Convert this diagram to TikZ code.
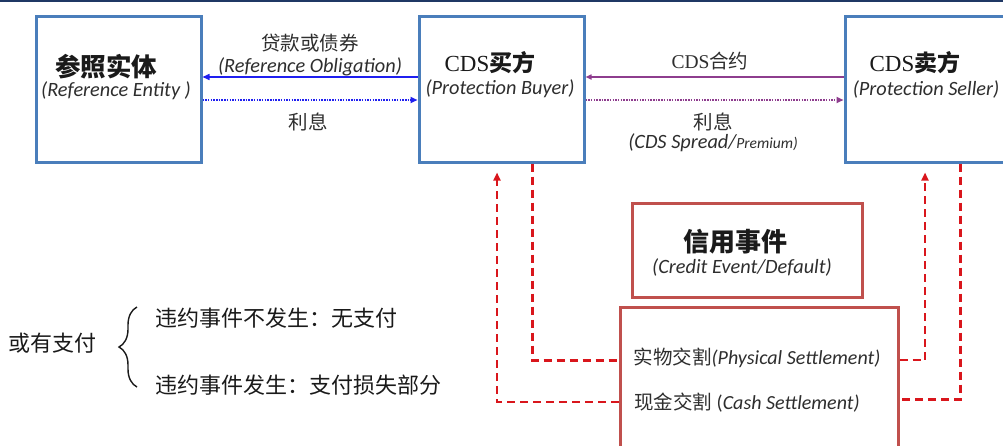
\documentclass[tikz,border=0pt]{standalone}
\usepackage{fontspec}
\setmainfont{Carlito}
\newfontfamily\cjk{Noto Sans CJK SC}
\newfontfamily\tnr{Liberation Serif}
\usetikzlibrary{arrows.meta,decorations.pathreplacing,calc}
\definecolor{boxblue}{HTML}{4A7EBB}
\definecolor{boxred}{HTML}{C0504D}
\definecolor{dashred}{HTML}{D9161C}
\definecolor{arrblue}{HTML}{1F1FF0}
\definecolor{arrpurple}{HTML}{8E3D8E}
\definecolor{navy}{HTML}{1F3864}
\definecolor{txt}{HTML}{1A1A1A}
\definecolor{txtg}{HTML}{2E2E2E}
\tikzset{
  bluebox/.style={draw=boxblue, line width=3pt, fill=white, inner sep=0pt},
  redbox/.style={draw=boxred, line width=3pt, fill=white, inner sep=0pt},
  title/.style={font=\cjk\bfseries\fontsize{25.5}{28}\selectfont, text=txt, inner sep=0pt},
  cdstitle/.style={font=\fontsize{23}{26}\selectfont, text=txt, inner sep=0pt},
  sub/.style={font=\itshape\fontsize{20.3}{23}\selectfont, text=txtg, inner sep=0pt},
  lab/.style={font=\cjk\fontsize{19.5}{22}\selectfont, text=txtg, inner sep=0pt},
  note/.style={font=\cjk\fontsize{22}{25}\selectfont, text=txt, inner sep=0pt},
  bluearrow/.style={draw=arrblue, line width=1.5pt, -{Triangle[length=7pt,width=6pt]}},
  bluedot/.style={draw=arrblue, line width=1.7pt, dash pattern=on 1.5pt off 1.2pt, -{Triangle[length=7pt,width=6pt]}},
  purplearrow/.style={draw=arrpurple, line width=1.5pt, -{Triangle[length=6pt,width=5pt]}},
  purpledot/.style={draw=arrpurple, line width=1.7pt, dash pattern=on 1.5pt off 1.2pt, -{Triangle[length=7pt,width=6pt]}},
  redthick/.style={draw=dashred, line width=3pt, dash pattern=on 8pt off 5pt},
  redthin/.style={draw=dashred, line width=2.3pt, dash pattern=on 8pt off 5pt, -{Triangle[length=8pt,width=7pt]}},
}
\begin{document}
\begin{tikzpicture}[x=1pt,y=-1pt]
\useasboundingbox (0,0) rectangle (1003,445);
\clip (0,0) rectangle (1003,445);
\fill[white] (0,0) rectangle (1003,445);
\draw[navy, line width=2pt] (0,1) -- (1003,1);

% boxes
\node[bluebox, minimum width=165pt, minimum height=146pt] (ent) at (118.5,89) {};
\node[bluebox, minimum width=165pt, minimum height=146pt] (buyer) at (501.5,89) {};
\node[bluebox, minimum width=165pt, minimum height=146pt] (seller) at (927.5,89) {};
\node[redbox, minimum width=230pt, minimum height=94pt] (credit) at (747,250) {};
\node[redbox, minimum width=278pt, minimum height=165pt] (settle) at (759,389.5) {};

% box texts
\node[title] (t1a) at (106,67) {参照实体};
\node[sub] (t1b) at (116,91) {(Reference Entity )};
\node[cdstitle] (t2a) at (490,63) {{\tnr CDS}{\cjk\bfseries 买方}};
\node[sub] (t2b) at (500,89) {(Protection Buyer)};
\node[cdstitle] (t3a) at (915,63) {{\tnr CDS}{\cjk\bfseries 卖方}};
\node[sub] (t3b) at (926,89) {(Protection Seller)};
\node[title, font=\cjk\bfseries\fontsize{26}{28}\selectfont] (ce1) at (735,242) {信用事件};
\node[sub] (ce2) at (742,267) {(Credit Event/Default)};
\node[lab, font=\cjk\fontsize{19.5}{22}\selectfont] (phy) at (757,358) {实物交割{\rmfamily\itshape\fontsize{20}{22}\selectfont(Physical Settlement)}};
\node[lab, font=\cjk\fontsize{19.5}{22}\selectfont] (cash) at (747,403) {现金交割 {\rmfamily\fontsize{20}{22}\selectfont(\itshape Cash Settlement)}};

% labels on connectors
\node[lab] (l1a) at (310,43) {贷款或债券};
\node[sub] (l1b) at (310,67) {(Reference Obligation)};
\node[lab] (l2) at (308,122) {利息};
\node[lab] (l3) at (710,61) {{\tnr CDS}合约};
\node[lab] (l4a) at (713,122) {利息};
\node[sub] (l4b) at (713,143) {(CDS Spread/{\fontsize{15.5}{17}\selectfont Premium)}};

% top connectors
\draw[bluearrow] ([yshift=12pt]buyer.west) -- ([yshift=12pt]ent.east);
\draw[bluedot] ([yshift=-11pt]ent.east) -- ([yshift=-11pt]buyer.west);
\draw[purplearrow] ([yshift=12pt]seller.west) -- ([yshift=12pt]buyer.east);
\draw[purpledot] ([yshift=-11pt]buyer.east) -- ([yshift=-11pt]seller.west);

% settlement connectors
\draw[redthick] ([xshift=30.5pt]buyer.south) |- ([yshift=-2pt]settle.west |- phy.center);
\draw[redthin] ([yshift=-2pt]settle.east |- phy.center) -| ([xshift=-2.5pt,yshift=-9pt]seller.south);
\draw[redthick] ([xshift=32.5pt]seller.south) |- ([yshift=4pt]settle.east |- cash.center);
\draw[redthin] ([yshift=1pt]settle.west |- cash.center) -| ([xshift=-4.5pt,yshift=-9pt]buyer.south);

% contingent payment
\node[note] (cp) at (53,343) {或有支付};
\draw[txt, line width=1.4pt, decorate, decoration={brace, amplitude=18pt}] (137,387) -- (137,307);
\node[note, anchor=west] (r1) at (155,318) {违约事件不发生：无支付};
\node[note, anchor=west] (r2) at (155,385) {违约事件发生：支付损失部分};
\end{tikzpicture}
\end{document}
